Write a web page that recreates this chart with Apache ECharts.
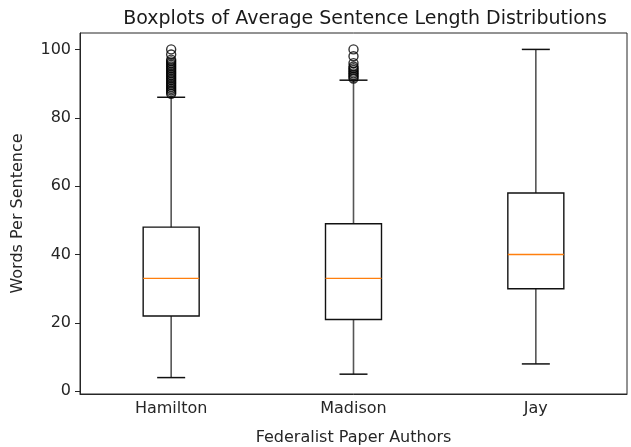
<!DOCTYPE html>
<html>
<head>
<meta charset="utf-8">
<script src="https://cdn.jsdelivr.net/npm/echarts@6/dist/echarts.min.js"></script>
<style>
  html, body { margin: 0; padding: 0; background: #fff; }
  #chart { width: 631px; height: 447px; }
</style>
</head>
<body>
<div id="chart"></div>
<script>
// authors on the x axis
const authors = ['Hamilton', 'Madison', 'Jay'];

// [lower whisker, Q1, median, Q3, upper whisker]
const hamiltonBox = [4, 22, 33, 48, 86];
const madisonBox = [5, 21, 33, 49, 91];
const jayBox = [8, 30, 40, 58, 100];

// points beyond the whiskers
const hamiltonOutliers = [87, 87.5, 88, 88.5, 89, 89.5, 90, 90.5, 91, 91.5, 92, 92.5, 93, 93.5,
  94, 94.5, 95, 95.5, 96, 96.5, 97, 98.5, 100];
const madisonOutliers = [91.5, 92, 92.5, 93, 93.5, 94, 94.5, 95, 96, 98, 100];
const jayOutliers = [];

const yTicks = [0, 20, 40, 60, 80, 100];

const boxes = [hamiltonBox, madisonBox, jayBox];
const outliers = [hamiltonOutliers, madisonOutliers, jayOutliers];

const flierData = [];
outliers.forEach((list, i) => {
  list.forEach((v) => flierData.push([i, v]));
});

const font = 'DejaVu Sans';
const ink = '#262626';
const boxHalf = 28;
const capHalf = 14;

const chart = echarts.init(document.getElementById('chart'));

chart.setOption({
  animation: false,
  title: {
    text: 'Boxplots of Average Sentence Length Distributions',
    left: 360,
    textAlign: 'center',
    top: 5,
    textStyle: { fontFamily: font, fontSize: 19, fontWeight: 'normal', color: '#1a1a1a' },
  },
  grid: {
    left: 80,
    right: 4,
    top: 33,
    bottom: 53,
    outerBoundsMode: 'none',
    containLabel: false,
    show: true,
    borderColor: ink,
    borderWidth: 1,
  },
  xAxis: {
    type: 'category',
    data: authors,
    name: 'Federalist Paper Authors',
    nameLocation: 'middle',
    nameGap: 36,
    nameTextStyle: { fontFamily: font, fontSize: 16, color: ink },
    axisLine: { onZero: false, lineStyle: { color: ink } },
    axisTick: { alignWithLabel: true, length: 5, lineStyle: { color: ink } },
    axisLabel: { fontFamily: font, fontSize: 16, color: ink, margin: 7 },
    splitLine: { show: false },
  },
  yAxis: {
    type: 'value',
    min: -0.8,
    max: 104.8,
    name: 'Words Per Sentence',
    nameLocation: 'middle',
    nameGap: 54,
    nameTextStyle: { fontFamily: font, fontSize: 16, color: ink },
    axisLine: { show: true, lineStyle: { color: ink } },
    axisTick: { show: true, length: 5, lineStyle: { color: ink }, customValues: yTicks },
    axisLabel: {
      fontFamily: font,
      fontSize: 16,
      color: ink,
      margin: 9,
      customValues: yTicks,
    },
    splitLine: { show: false },
  },
  series: [
    {
      // box, whiskers, caps and orange median, matplotlib style
      type: 'custom',
      data: boxes.map((b, i) => [i].concat(b)),
      renderItem: (params, api) => {
        const x = api.coord([api.value(0), 0])[0];
        const y = (k) => api.coord([api.value(0), api.value(k)])[1];
        const lo = y(1), q1 = y(2), med = y(3), q3 = y(4), hi = y(5);
        const black = { stroke: '#111', lineWidth: 1.5 };
        const grey = { stroke: '#555', lineWidth: 1.6 };
        return {
          type: 'group',
          children: [
            { type: 'line', shape: { x1: x, y1: q1, x2: x, y2: lo }, style: grey },
            { type: 'line', shape: { x1: x, y1: q3, x2: x, y2: hi }, style: grey },
            { type: 'line', shape: { x1: x - capHalf, y1: lo, x2: x + capHalf, y2: lo }, style: black },
            { type: 'line', shape: { x1: x - capHalf, y1: hi, x2: x + capHalf, y2: hi }, style: black },
            {
              type: 'rect',
              shape: { x: x - boxHalf, y: q3, width: boxHalf * 2, height: q1 - q3 },
              style: { fill: 'none', stroke: '#111', lineWidth: 1.4 },
            },
            {
              type: 'line',
              shape: { x1: x - boxHalf, y1: med, x2: x + boxHalf, y2: med },
              style: { stroke: '#ff7f0e', lineWidth: 1.3 },
            },
          ],
        };
      },
      z: 2,
    },
    {
      type: 'scatter',
      data: flierData,
      symbol: 'circle',
      symbolSize: 9,
      itemStyle: { color: 'rgba(0,0,0,0)', borderColor: '#000', borderWidth: 1.4 },
      z: 4,
    },
  ],
});
</script>
</body>
</html>
